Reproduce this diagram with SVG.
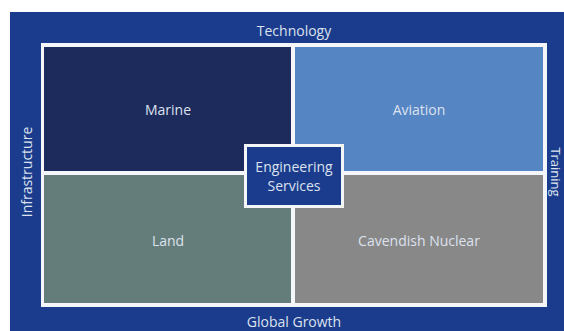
<svg xmlns="http://www.w3.org/2000/svg" width="564" height="331" viewBox="0 0 564 331">
<style>
.t{font-family:"Open Sans","Noto Sans",sans-serif;font-size:14px;fill:#dce2ee;text-anchor:middle}
</style>
<rect x="0" y="0" width="564" height="331" fill="#ffffff"/>
<rect id="background" x="10" y="12" width="560" height="325" fill="#1b3c8c"/>
<rect id="frame" x="41" y="43" width="506" height="264" fill="#f4f6fa"/>
<g id="marine">
<rect x="44" y="47" width="247" height="124" fill="#1c2a5c"/>
<text class="t" x="168" y="115">Marine</text>
</g>
<g id="aviation">
<rect x="295" y="47" width="248" height="124" fill="#5685c4"/>
<text class="t" x="419" y="115">Aviation</text>
</g>
<g id="land">
<rect x="44" y="175" width="247" height="128" fill="#657d7a"/>
<text class="t" x="168" y="246">Land</text>
</g>
<g id="cavendish">
<rect x="295" y="175" width="248" height="128" fill="#888888"/>
<text class="t" x="419" y="246">Cavendish Nuclear</text>
</g>
<g id="engineering">
<rect x="245.5" y="145.5" width="97" height="61" fill="#1b3c8c" stroke="#f4f6fa" stroke-width="3"/>
<text class="t" x="294" y="172">Engineering</text>
<text class="t" x="294" y="191">Services</text>
</g>
<g id="labels">
<text class="t" x="294" y="36">Technology</text>
<text class="t" x="294" y="327">Global Growth</text>
<text class="t" transform="translate(32,172) rotate(-90)">Infrastructure</text>
<text class="t" style="font-size:13px" transform="translate(551,172) rotate(90)">Training</text>
</g>
</svg>
